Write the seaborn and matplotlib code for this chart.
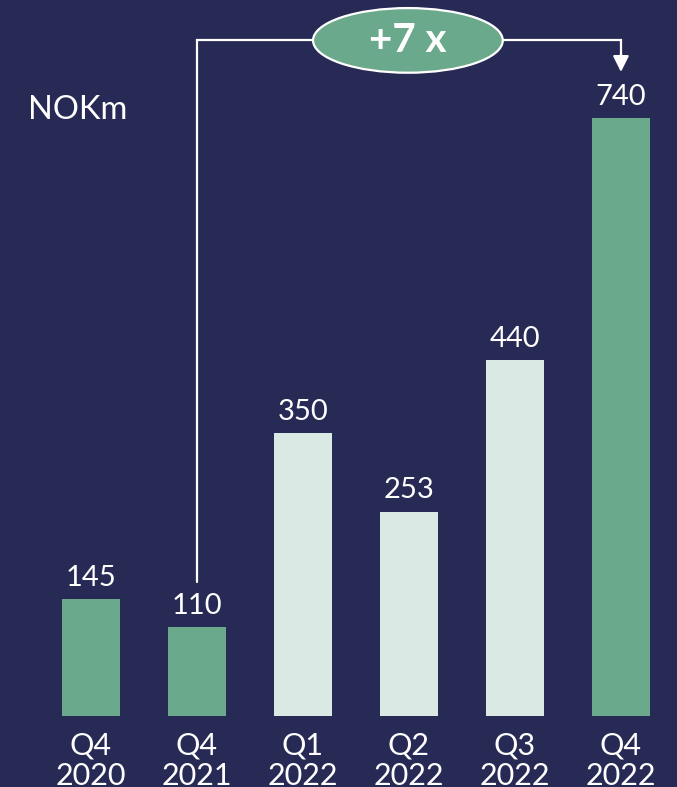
import matplotlib
matplotlib.use('Agg')
import matplotlib.pyplot as plt
from matplotlib.patches import Ellipse
import seaborn as sns

# data
quarters = ['Q4\n2020', 'Q4\n2021', 'Q1\n2022', 'Q2\n2022', 'Q3\n2022', 'Q4\n2022']
revenue = [145, 110, 350, 253, 440, 740]
unit_label = 'NOKm'
growth_label = '+7 x'

bg = '#282A56'
green = '#6AA98B'
light = '#DAE9E3'
bar_colors = [green, green, light, light, light, green]

sns.set_theme(style='white')
plt.rcParams['font.family'] = ['Lato', 'DejaVu Sans']

fig = plt.figure(figsize=(6.77, 7.87), dpi=100, facecolor=bg)
ax = fig.add_axes([0.0561, 0.0902, 0.9394, 0.9098])
ax.set_facecolor(bg)

sns.barplot(x=quarters, y=revenue, hue=quarters, palette=bar_colors,
            legend=False, width=0.55, saturation=1, linewidth=0, ax=ax)

ax.set_xlim(-0.5, 5.5)
ax.set_ylim(0, 886)
sns.despine(ax=ax, left=True, bottom=True)
ax.set_yticks([])
ax.set_xticks(range(len(quarters)), quarters, linespacing=1.1)
ax.tick_params(axis='x', length=0, pad=11, labelsize=22, colors='white')
ax.set_xlabel('')
ax.set_ylabel('')

for i, v in enumerate(revenue):
    ax.text(i, v + 10, str(v), ha='center', va='bottom', color='white', fontsize=21)

fig.text(28 / 677, 1 - 110 / 787, unit_label, ha='left', va='center',
         color='white', fontsize=23.5)

# growth bracket
y_top = 836
ax.plot([1, 1, 5, 5], [166, y_top, y_top, 815], color='white', lw=1.6,
        clip_on=False, solid_joinstyle='miter')
ax.annotate('', xy=(5, 797), xytext=(5, 820),
            arrowprops=dict(arrowstyle='-|>,head_width=0.4,head_length=0.8',
                            color='white', lw=1.6, shrinkA=0, shrinkB=0),
            annotation_clip=False)
ell = Ellipse((2.99, y_top), width=1.79, height=80, facecolor=green,
              edgecolor='white', lw=1.6, clip_on=False, zorder=5)
ax.add_patch(ell)
ax.text(2.99, y_top, growth_label, ha='center', va='center', color='white',
        fontsize=29, fontweight='bold', zorder=6)

fig.savefig('out.png', dpi=100, facecolor=bg)
